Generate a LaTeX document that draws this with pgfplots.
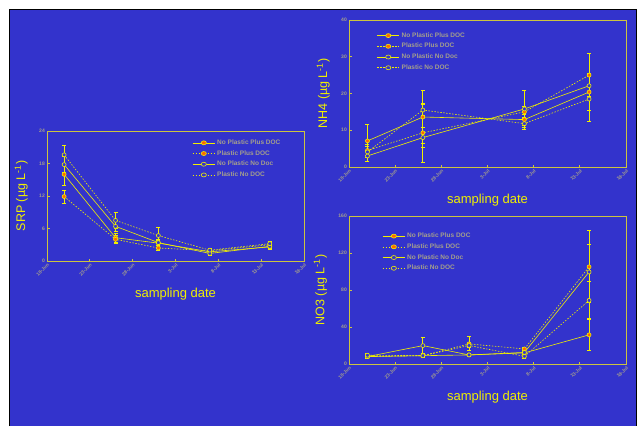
\documentclass[border=0pt]{standalone}
\usepackage{pgfplots}
\pgfplotsset{compat=1.18}
\usepackage{fontspec}
\setmainfont{Liberation Sans}
\definecolor{bg}{RGB}{51,51,204}
\definecolor{axc}{RGB}{204,196,64}
\definecolor{ylw}{RGB}{240,240,0}
\definecolor{tkc}{RGB}{165,160,140}
\definecolor{org}{RGB}{255,102,0}
\pgfplotsset{
 myax/.style={scale only axis, xmin=0, xmax=30, ymin=0,
  axis line style={axc, line width=1pt},
  xtick={0,5,...,30},
  xticklabels={18-Jun,23-Jun,28-Jun,3-Jul,8-Jul,13-Jul,18-Jul},
  x tick label style={rotate=45, anchor=north east, font=\fontsize{4.8}{5}\selectfont\bfseries, text=tkc, inner sep=1pt},
  y tick label style={font=\fontsize{5}{6}\selectfont\bfseries, text=tkc, inner sep=2pt},
  /pgf/number format/assume math mode=true,
  tick style={axc, line width=0.8pt}, major tick length=2.5pt, tick align=inside,
  xtick pos=bottom, ytick pos=left,
  axis background/.style={fill=bg},
  xlabel={sampling date},
  xlabel style={text=ylw, font=\fontsize{13}{14}\selectfont, yshift=-7pt},
  ylabel style={text=ylw, font=\fontsize{12.5}{14}\selectfont, yshift=6pt},
  legend cell align=left,
  legend image post style={xscale=1.3},
  legend style={draw=none, fill=none, anchor=north west, inner sep=0pt,
    font=\fontsize{6.5}{7}\selectfont\bfseries, text=tkc, row sep=0.5pt},
 },
 ebars/.style={error bars/.cd, y dir=both, y explicit,
   error bar style={ylw, line width=1pt, solid},
   error mark options={rotate=90, mark size=2pt, ylw, line width=1pt, solid}},
 npp/.style={ylw, line width=0.6pt, mark=*, mark size=2pt, mark options={fill=org, draw=ylw, solid, line width=0.6pt}, ebars},
 pp/.style={ylw, line width=0.6pt, dash pattern=on 1.5pt off 1.5pt, mark=*, mark size=2pt, mark options={fill=org, draw=ylw, solid, line width=0.6pt}, ebars},
 npn/.style={ylw, line width=0.6pt, mark=*, mark size=2pt, mark options={fill=bg, draw=ylw, solid, line width=0.6pt}, ebars},
 pn/.style={ylw, line width=0.6pt, dash pattern=on 1.5pt off 1.5pt, mark=*, mark size=2pt, mark options={fill=bg, draw=ylw, solid, line width=0.6pt}, ebars},
}
\begin{document}
\begin{tikzpicture}[x=1pt,y=1pt]
\fill[white] (0,0) rectangle (639,426);
\fill[bg] (9.5,0) rectangle (636.5,416.5);
\draw[black, line width=1.5pt] (9.5,0) -- (9.5,416.5) -- (636.5,416.5) -- (636.5,0);
% SRP
\begin{axis}[myax, at={(47pt,165pt)}, anchor=south west, width=257pt, height=130pt,
  ymax=24, ytick={0,6,...,24}, ylabel={SRP (µg L\textsuperscript{-1})},
  legend style={at={(0.565,0.95)}}]
\addplot[npp] coordinates {(2,16.0)+-(0,2.0) (8,4.3)+-(0,0.8) (13,3.3)+-(0,0.5) (19,1.7)+-(0,0.3) (26,2.6)+-(0,0.4)};
\addplot[pp] coordinates {(2,11.9)+-(0,1.2) (8,4.0)+-(0,0.8) (13,2.4)+-(0,0.4) (19,1.9)+-(0,0.3) (26,3.0)+-(0,0.4)};
\addplot[npn] coordinates {(2,17.8)+-(0,1.5) (8,6.4)+-(0,1.0) (13,3.4)+-(0,0.5) (19,1.4)+-(0,0.3) (26,2.7)+-(0,0.4)};
\addplot[pn] coordinates {(2,19.6)+-(0,1.7) (8,7.5)+-(0,1.5) (13,4.7)+-(0,1.5) (19,2.0)+-(0,0.3) (26,3.2)+-(0,0.4)};
\legend{No Plastic Plus DOC, Plastic Plus DOC, No Plastic No Doc, Plastic No DOC}
\end{axis}
% NH4
\begin{axis}[myax, at={(349pt,259pt)}, anchor=south west, width=277pt, height=147pt,
  ymax=40, ytick={0,10,...,40}, ylabel={NH4 (µg L\textsuperscript{-1})},
  legend style={at={(0.1,0.93)}}]
\addplot[npp] coordinates {(2,7.1)+-(0,4.6) (8,13.6)+-(0,7.3) (19,12.9)+-(0,1.5) (26,20.4)+-(0,5.0)};
\addplot[pp] coordinates {(2,4.5)+-(0,1.5) (8,9.3)+-(0,8.0) (19,15.0)+-(0,1.5) (26,25.0)+-(0,5.9)};
\addplot[npn] coordinates {(2,3.0)+-(0,1.5) (8,8.0)+-(0,2.7) (19,15.8)+-(0,5.1) (26,22.1)+-(0,3.0)};
\addplot[pn] coordinates {(2,4.1)+-(0,1.5) (8,15.5)+-(0,1.5) (19,11.8)+-(0,1.5) (26,18.5)+-(0,6.0)};
\legend{No Plastic Plus DOC, Plastic Plus DOC, No Plastic No Doc, Plastic No DOC}
\end{axis}
% NO3
\begin{axis}[myax, at={(349pt,62pt)}, anchor=south west, width=277pt, height=148pt,
  ymax=160, ytick={0,40,...,160}, ylabel={NO3 (µg L\textsuperscript{-1})},
  legend style={at={(0.12,0.9)}}]
\addplot[npp] coordinates {(2,8.0)+-(0,2) (8,9.0)+-(0,2) (13,9.8)+-(0,2) (19,12.0)+-(0,2) (26,31.5)+-(0,17)};
\addplot[pp] coordinates {(2,8.0)+-(0,2) (8,9.0)+-(0,2) (13,21.7)+-(0,7.5) (19,16.3)+-(0,2) (26,105)+-(0,39)};
\addplot[npn] coordinates {(2,8.0)+-(0,2) (8,19.9)+-(0,9) (13,9.8)+-(0,2) (19,12.5)+-(0,2) (26,99.5)+-(0,30)};
\addplot[pn] coordinates {(2,9.5)+-(0,2) (8,9.0)+-(0,2) (13,20.0)+-(0,2) (19,8.3)+-(0,2) (26,68.8)+-(0,20)};
\legend{No Plastic Plus DOC, Plastic Plus DOC, No Plastic No Doc, Plastic No DOC}
\end{axis}
\end{tikzpicture}
\end{document}
